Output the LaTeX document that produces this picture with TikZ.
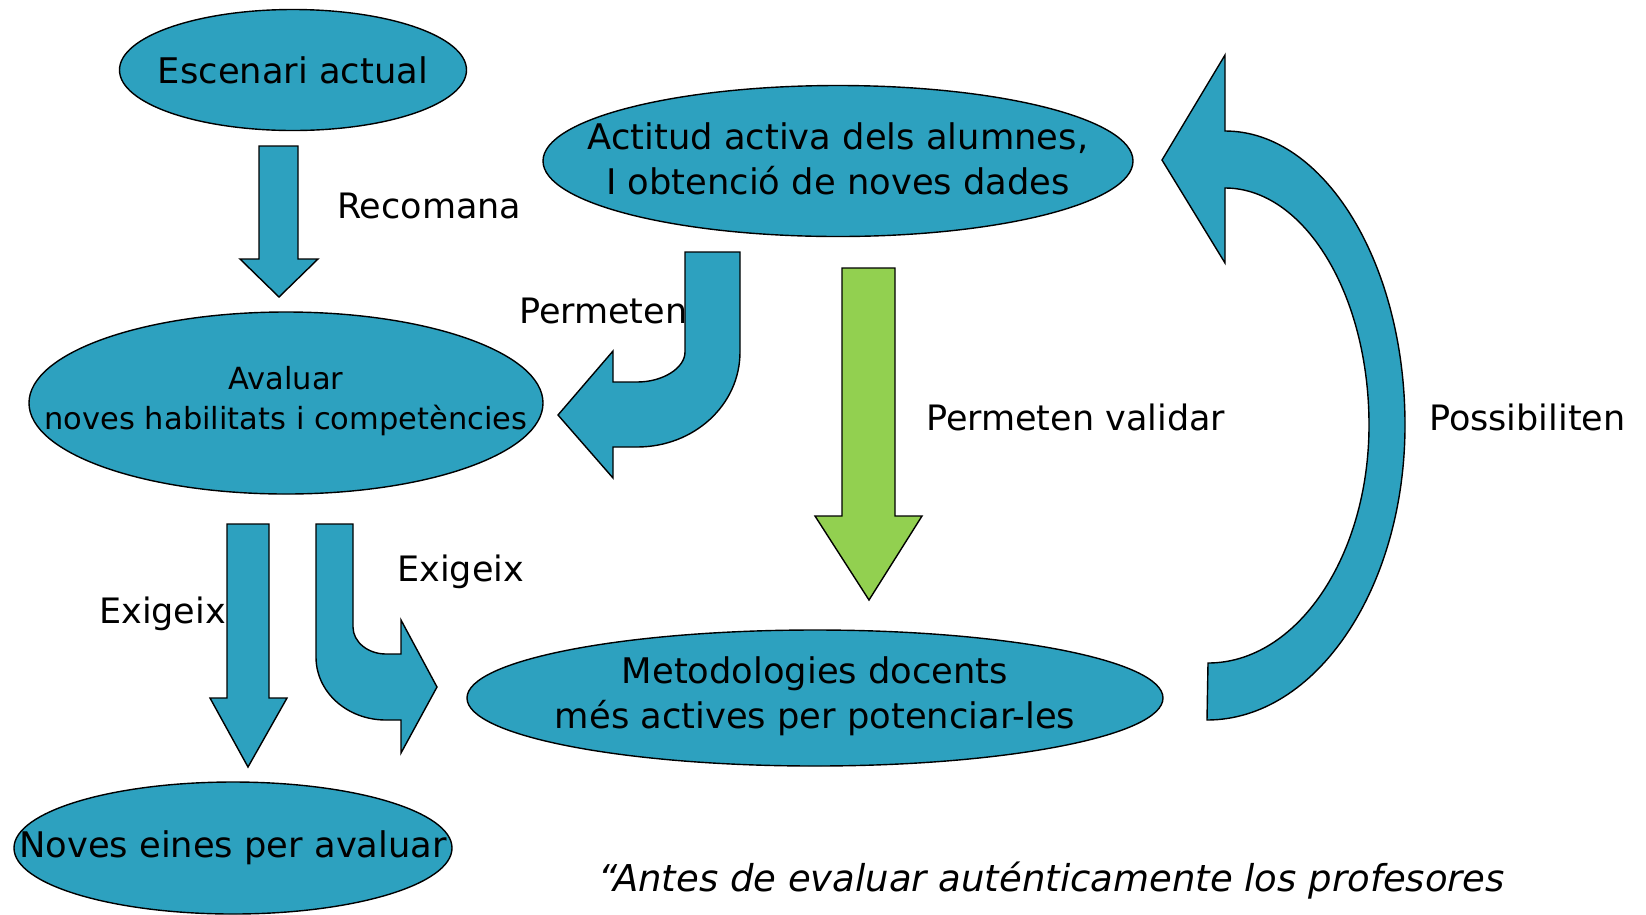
\documentclass[tikz,border=0pt]{standalone}
\usepackage{fontspec}
\setmainfont{DejaVu Sans}
\usetikzlibrary{shapes.geometric}
\definecolor{blu}{RGB}{45,161,191}
\definecolor{grn}{RGB}{146,208,80}
\tikzset{
  ell/.style={ellipse, draw=black, line width=1.4pt, fill=blu, inner sep=0pt},
  etxt/.style={inner sep=0pt, align=center, font=\fontsize{35.3}{45}\selectfont},
  blockarrow/.style={draw=black, line width=1.4pt, fill=blu, line join=miter},
  greenarrow/.style={blockarrow, fill=grn},
  lbl/.style={anchor=base west, inner sep=0pt, font=\fontsize{35}{42}\selectfont},
  quote/.style={anchor=base west, inner sep=0pt, font=\fontsize{37}{46}\selectfont\itshape}
}
\begin{document}
\begin{tikzpicture}[x=1pt,y=-1pt]
\useasboundingbox (0,0) rectangle (1646,914);

% ellipses
\node[ell, minimum width=347pt, minimum height=121pt] (esc) at (293,70) {};
\node[etxt] at (esc) {Escenari actual};
\node[ell, minimum width=590pt, minimum height=151pt] (act) at (838,161) {};
\node[etxt, yshift=2pt] at (act) {Actitud activa dels alumnes,\\ I obtenció de noves dades};
\node[ell, minimum width=514pt, minimum height=182pt] (ava) at (286,403) {};
\node[etxt, font=\fontsize{30.5}{40}\selectfont, yshift=2pt] at (ava) {Avaluar\\ noves habilitats i competències};
\node[ell, minimum width=696pt, minimum height=136pt] (met) at (815,698) {};
\node[etxt, yshift=2pt] at (met) {Metodologies docents\\ més actives per potenciar-les};
\node[ell, minimum width=438pt, minimum height=132pt] (nov) at (233,848) {};
\node[etxt] at (nov) {Noves eines per avaluar};

% block arrows
\path[blockarrow] (259,146) -- (298,146) -- (298,259) -- (318,259) -- (279,297) -- (240,259) -- (259,259) -- cycle;

\path[blockarrow] (685,252) -- (740,252) -- (740,352)
  .. controls (740,405) and (694,447) .. (637,447) -- (613,447) -- (613,478) -- (558,415) -- (613,351) -- (613,382) -- (637,382)
  .. controls (663,382) and (685,368) .. (685,352) -- cycle;

\path[greenarrow] (842,268) -- (895,268) -- (895,516) -- (922,516) -- (869,600) -- (815,516) -- (842,516) -- cycle;

\path[blockarrow] (227,524) -- (269,524) -- (269,698) -- (287,698) -- (248,767) -- (210,698) -- (227,698) -- cycle;

\path[blockarrow] (316,524) -- (353,524) -- (353,627)
  .. controls (353,642) and (368,654) .. (386,654) -- (401,654) -- (401,620) -- (437,687) -- (401,753) -- (401,720) -- (386,720)
  .. controls (347,720) and (316,692) .. (316,657) -- cycle;

\path[blockarrow] (1207,720) .. controls (1316,720) and (1405,588) .. (1405,425)
  .. controls (1405,263) and (1324,131) .. (1225,131) -- (1225,55) -- (1162,160) -- (1225,263) -- (1225,188)
  .. controls (1304,188) and (1369,294) .. (1369,425)
  .. controls (1369,556) and (1297,663) .. (1208,663) -- cycle;

% labels
\node[lbl] (lrec) at (337,218) {Recomana};
\node[lbl] (lper) at (519,323) {Permeten};
\node[lbl] (lval) at (926,430) {Permeten validar};
\node[lbl] (lpos) at (1429,430) {Possibiliten};
\node[lbl] (lex1) at (99,623) {Exigeix};
\node[lbl] (lex2) at (397,581) {Exigeix};
\node[quote] (q) at (598,891) {“Antes de evaluar auténticamente los profesores};
\end{tikzpicture}
\end{document}
